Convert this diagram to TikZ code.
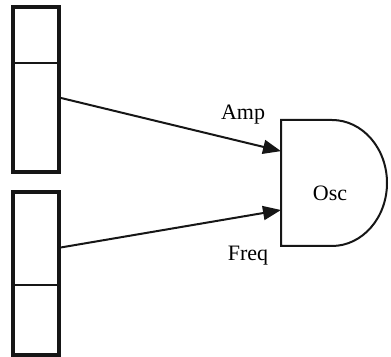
\documentclass[tikz,border=0pt]{standalone}
\usepackage{fontspec}
\setmainfont{Liberation Serif}
\definecolor{trazo}{HTML}{161616}
\usepackage{tikz}
\usetikzlibrary{
	arrows.meta,
	positioning,
	calc
}
\tikzset{
	celda/.style={
		draw=trazo,
		line width=0.8pt,
		minimum width=23pt,
		inner sep=0pt,
		outer sep=0pt
	},
	marco/.style={
		draw=trazo,
		line width=2pt
	},
	bloque/.style={
		draw=trazo,
		line width=1pt
	},
	flecha/.style={
		-{Triangle[length=9pt,width=7pt]},
		line width=1pt,
		trazo
	},
	etiqueta/.style={
		font=\fontsize{11}{13}\selectfont,
		inner sep=0pt
	}
}

\begin{document}
\begin{tikzpicture}[x=0.5pt,y=0.5pt]
		\useasboundingbox (0,0) rectangle (391,357);
		\node[celda, minimum height=28pt] (ampAlto) at (36,322) {};
		\node[celda, minimum height=54.5pt] (ampBajo) at (36,239.5) {};
		\node[celda, minimum height=46.5pt] (freqAlto) at (36,118.5) {};
		\node[celda, minimum height=35pt] (freqBajo) at (36,37) {};
		\draw[marco] (ampAlto.north west) rectangle (ampBajo.south east);
		\draw[marco] (freqAlto.north west) rectangle (freqBajo.south east);
		\node[minimum width=53pt, minimum height=63pt, inner sep=0pt, outer sep=0pt] (osc) at (334,174) {};
		\draw[bloque] (osc.south west) -- (osc.north west) -- ++(51,0)
			arc[start angle=90, end angle=-90, x radius=27.5pt, y radius=31.5pt] -- cycle;
		\node[etiqueta] (oscTexto) at (330,164) {Osc};
		\node[etiqueta] (ampTexto) at (243,242) {Amp};
		\node[etiqueta] (freqTexto) at (248,101) {Freq};
		\draw[flecha] (ampBajo.41.7) -- (osc.149.7);
		\draw[flecha] (freqAlto.-22.4) -- (osc.207);
	\end{tikzpicture}
\end{document}
